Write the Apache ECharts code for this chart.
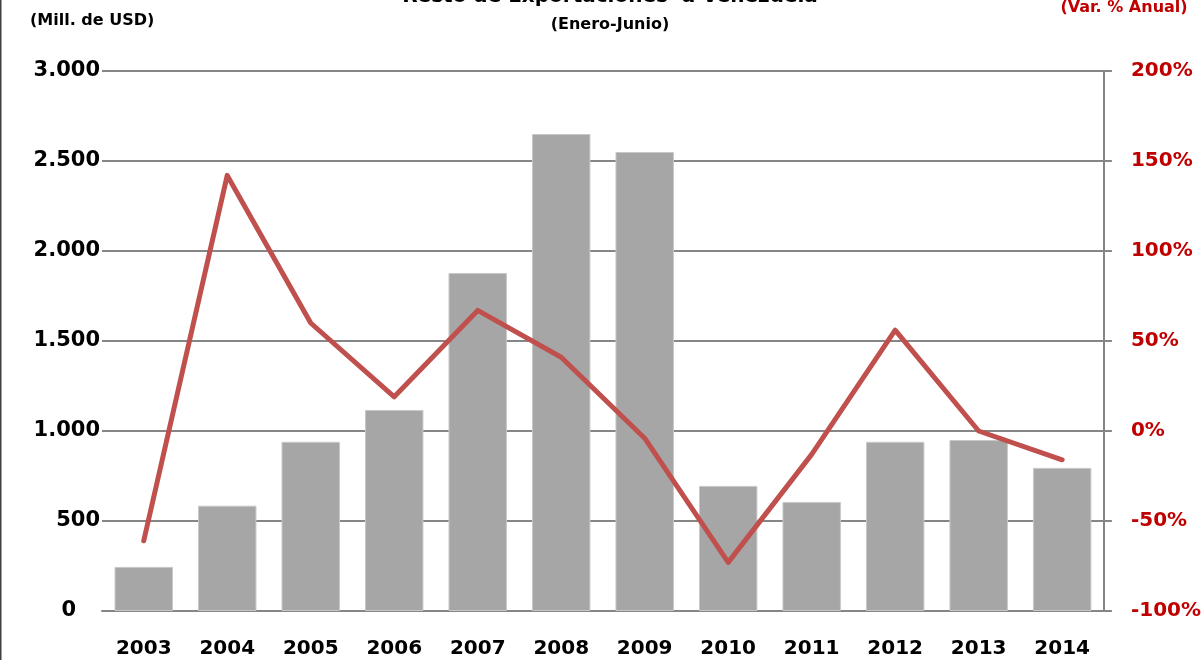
<!DOCTYPE html>
<html>
<head>
<meta charset="utf-8">
<script src="https://cdn.jsdelivr.net/npm/echarts@6/dist/echarts.min.js"></script>
<style>
  html, body { margin: 0; padding: 0; background: #fff; }
  #chart { width: 1204px; height: 660px; }
</style>
</head>
<body>
<div id="chart"></div>
<script>
// Exportaciones no petroleras a Venezuela, enero-junio
const years = ['2003', '2004', '2005', '2006', '2007', '2008', '2009', '2010', '2011', '2012', '2013', '2014'];
// Millones de USD
const exportsUSD = [245, 585, 940, 1117, 1878, 2650, 2550, 695, 606, 940, 950, 795];
// Variación % anual
const annualChange = [-61, 142, 60, 19, 67, 41, -4, -73, -13, 56, 0, -16];

const leftTicks = { min: 0, max: 3000, interval: 500 };
const rightTicks = { min: -100, max: 200, interval: 50 };

const FONT = 'DejaVu Sans';
const GRID_COLOR = '#868686';

function thousands(v) {
  return String(v).replace(/\B(?=(\d{3})+(?!\d))/g, '.');
}

const chart = echarts.init(document.getElementById('chart'), null, { renderer: 'canvas' });

chart.setOption({
  animation: false,
  backgroundColor: '#ffffff',
  grid: { left: 102, right: 98, top: 71, bottom: 49, containLabel: false },
  graphic: [
    { type: 'rect', left: 0, top: 0, shape: { width: 1.5, height: 660 }, style: { fill: '#404040' } },
    {
      type: 'text', x: 610, y: -3,
      style: { text: 'Resto de Exportaciones  a Venezuela', font: 'bold 20px "' + FONT + '"', fill: '#000', align: 'center', verticalAlign: 'middle' }
    },
    {
      type: 'text', x: 610, y: 25,
      style: { text: '(Enero-Junio)', font: 'bold 16px "' + FONT + '"', fill: '#000', align: 'center', verticalAlign: 'middle' }
    },
    {
      type: 'text', x: 30, y: 21,
      style: { text: '(Mill. de USD)', font: 'bold 16px "' + FONT + '"', fill: '#000', align: 'left', verticalAlign: 'middle' }
    },
    {
      type: 'text', x: 1124, y: 8,
      style: { text: '(Var. % Anual)', font: 'bold 16px "' + FONT + '"', fill: '#C00000', align: 'center', verticalAlign: 'middle' }
    }
  ],
  xAxis: {
    type: 'category',
    data: years,
    axisLine: { show: true, lineStyle: { color: GRID_COLOR, width: 2 } },
    axisTick: { show: false },
    axisLabel: { margin: 28, color: '#000', fontFamily: FONT, fontWeight: 'bold', fontSize: 20 }
  },
  yAxis: [
    {
      type: 'value',
      min: leftTicks.min, max: leftTicks.max, interval: leftTicks.interval,
      axisLine: { show: false },
      axisTick: { show: false },
      splitLine: { show: true, lineStyle: { color: GRID_COLOR, width: 2 } },
      axisLabel: {
        margin: 2, color: '#000', fontFamily: FONT, fontWeight: 'bold', fontSize: 21,
        formatter: v => (v === 0 ? '{z|0}' : thousands(v)),
        rich: { z: { fontFamily: FONT, fontWeight: 'bold', fontSize: 21, color: '#000', padding: [0, 24, 0, 0] } }
      }
    },
    {
      type: 'value',
      position: 'right',
      min: rightTicks.min, max: rightTicks.max, interval: rightTicks.interval,
      axisLine: { show: true, lineStyle: { color: GRID_COLOR, width: 2 } },
      axisTick: { show: true, inside: false, length: 8, lineStyle: { color: GRID_COLOR, width: 2 } },
      splitLine: { show: false },
      axisLabel: {
        margin: 27, color: '#C00000', fontFamily: FONT, fontWeight: 'bold', fontSize: 20,
        formatter: v => v + '%'
      }
    }
  ],
  series: [
    {
      name: 'Exportaciones',
      type: 'bar',
      data: exportsUSD,
      yAxisIndex: 0,
      barWidth: '70%',
      itemStyle: { color: '#A6A6A6', borderColor: '#C8C8C8', borderWidth: 1 }
    },
    {
      name: 'Var. % Anual',
      type: 'line',
      data: annualChange,
      yAxisIndex: 1,
      symbol: 'none',
      lineStyle: { color: '#C0504D', width: 5, join: 'round', cap: 'round' },
      z: 5
    }
  ]
});
</script>
</body>
</html>
